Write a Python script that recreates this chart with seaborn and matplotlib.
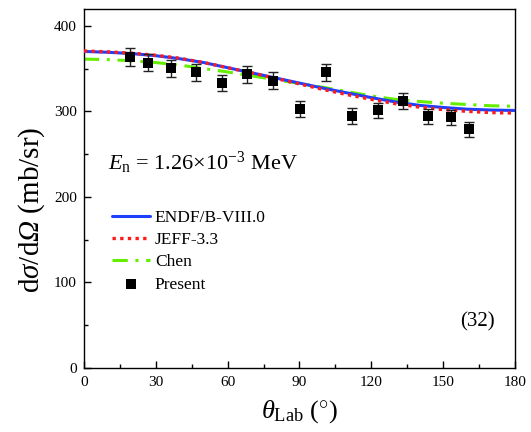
import numpy as np
import pandas as pd
import matplotlib
matplotlib.use("Agg")
import matplotlib.pyplot as plt
import seaborn as sns
from matplotlib.ticker import MultipleLocator

# Evaluated angular distributions (mb/sr) on a 10-degree grid
theta_eval = [0, 10, 20, 30, 40, 50, 60, 70, 80, 90, 100, 110, 120, 130, 140, 150, 160, 170, 180]
endf = [370, 369, 367.5, 365, 361.5, 357, 351, 345, 339, 333, 327, 321.5, 316, 311, 307, 304.5, 302.5, 301.5, 301]
jeff = [370.5, 369.5, 368, 365.5, 362, 357, 351, 345, 338.5, 332, 325.5, 319.5, 314, 309, 305, 302, 300, 298.5, 298]
chen = [361, 360.5, 359, 357, 354, 350, 346, 341.5, 337, 332.5, 328, 323, 318, 314, 311.5, 309.5, 308, 306.5, 306]

# Measured data
theta_exp = [19.2, 26.9, 36.3, 46.6, 57.5, 68.1, 78.8, 90.2, 101.2, 112.1, 122.9, 133.2, 143.8, 153.3, 160.9]
xs_exp = [364, 357, 350.5, 345.5, 333, 343.5, 336, 302.5, 345.5, 294.5, 301, 312, 294, 293, 279]
xs_err = [10.5, 10, 10, 10, 9.5, 10, 9.5, 9, 10, 9, 9, 9, 8.5, 8.5, 8.5]

sns.set_theme(style="white")
plt.rcParams["font.family"] = ["Liberation Serif", "DejaVu Serif"]
plt.rcParams["mathtext.fontset"] = "custom"
plt.rcParams["mathtext.rm"] = "Liberation Serif"
plt.rcParams["mathtext.it"] = "Liberation Serif:italic"
plt.rcParams["mathtext.sf"] = "Liberation Serif:italic"
plt.rcParams["text.color"] = "black"
plt.rcParams["axes.labelcolor"] = "black"
plt.rcParams["xtick.color"] = "black"
plt.rcParams["ytick.color"] = "black"

fig = plt.figure(figsize=(5.31, 4.32), dpi=100)
ax = fig.add_axes([0.158, 0.148, 0.812, 0.832])

df = pd.DataFrame({"theta": theta_eval, "ENDF": endf, "JEFF": jeff, "Chen": chen})

sns.lineplot(data=df, x="theta", y="ENDF", ax=ax, color="#1f3fff", lw=2.2,
             label="ENDF/B-VIII.0", zorder=3)
sns.lineplot(data=df, x="theta", y="JEFF", ax=ax, color="#ff1a1a", lw=2.4,
             linestyle=(0, (1, 1.3)), label="JEFF-3.3", zorder=4)
sns.lineplot(data=df, x="theta", y="Chen", ax=ax, color="#66ee00", lw=2.2,
             linestyle=(0, (5, 2.5, 1, 2.5)), label="Chen", zorder=2)

ax.errorbar(theta_exp, xs_exp, yerr=xs_err, fmt="none", ecolor="#222222",
            elinewidth=1.0, capsize=3.5, capthick=1.0, zorder=5)
sns.scatterplot(x=theta_exp, y=xs_exp, ax=ax, marker="s", color="black", s=50,
                edgecolor="black", linewidth=0, label="Present", zorder=6)

ax.set_xlim(0, 180)
ax.set_ylim(0, 420)
ax.xaxis.set_major_locator(MultipleLocator(30))
ax.xaxis.set_minor_locator(MultipleLocator(15))
ax.yaxis.set_major_locator(MultipleLocator(100))
ax.yaxis.set_minor_locator(MultipleLocator(50))
ax.tick_params(which="both", direction="in", top=False, right=False,
               bottom=True, left=True, color="black")
ax.tick_params(which="major", length=5, width=1, labelsize=11)
ax.tick_params(axis="x", which="major", pad=6)
ax.tick_params(axis="y", which="major", pad=5)
ax.tick_params(which="minor", length=3, width=1)
for sp in ax.spines.values():
    sp.set_color("black")
    sp.set_linewidth(1.0)

ax.set_xlabel(r"$\theta_{\mathrm{Lab}}$ $(^{\circ})$", fontsize=19, labelpad=6)
ax.set_ylabel(r"d$\sigma$/d$\mathsf{\Omega}$ (mb/sr)", fontsize=21)
ax.yaxis.set_label_coords(-0.086, 0.44)

ax.text(0.055, 0.553, r"$E_{\mathrm{n}}$ = 1.26$\times$10$^{-3}$ MeV",
        transform=ax.transAxes, fontsize=16, color="black")
ax.text(0.913, 0.115, "(32)", transform=ax.transAxes, fontsize=15,
        ha="center", color="black")

leg = ax.legend(loc="upper left", bbox_to_anchor=(0.048, 0.46), frameon=False,
                fontsize=12.5, handlelength=2.2, handletextpad=0.3,
                labelspacing=0.35, borderaxespad=0)

fig.savefig("out.png", dpi=100)
